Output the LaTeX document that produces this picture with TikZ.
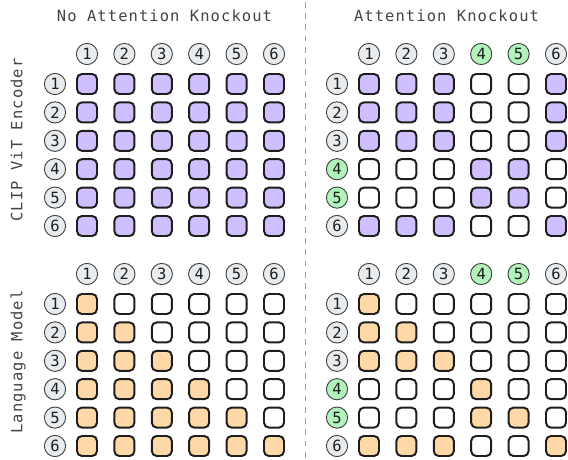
\documentclass[tikz,border=0pt]{standalone}
\usepackage{fontspec}
\setmonofont{DejaVu Sans Mono}
\newfontfamily\spacedmono[LetterSpace=7]{DejaVu Sans Mono}
\usetikzlibrary{positioning}

\definecolor{tokgray}{HTML}{E9ECEF}
\definecolor{tokgreen}{HTML}{B2F2BB}
\definecolor{attnpurple}{HTML}{D0BFFF}
\definecolor{attnorange}{HTML}{FFD8A8}
\definecolor{inkdark}{HTML}{1E1E1E}
\definecolor{labelgray}{HTML}{444444}

\begin{document}
\begin{tikzpicture}[
    x=0.025cm, y=-0.025cm,
    font=\fontsize{11}{13}\selectfont\ttfamily,
    token/.style={
        circle, draw=inkdark!85, line width=0.65pt,
        fill=tokgray, text=inkdark,
        minimum size=0.53cm, inner sep=0pt
    },
    knocked/.style={token, fill=tokgreen},
    cell/.style={
        rectangle, rounded corners=3.5pt,
        draw=inkdark, line width=1.4pt, fill=white,
        minimum size=0.5cm, inner sep=0pt
    },
    visual/.style={cell, fill=attnpurple},
    textual/.style={cell, fill=attnorange},
    paneltitle/.style={font=\fontsize{11}{13}\selectfont\spacedmono, text=labelgray},
    modeltitle/.style={paneltitle, rotate=90},
    separator/.style={draw=gray!75, line width=0.6pt, dash pattern=on 4pt off 4pt}
]
\useasboundingbox (0,0) rectangle (568,460);

% ============ Titles ============
\node[paneltitle] (title-no) at (164.5,16) {No Attention Knockout};
\node[paneltitle] (title-ko) at (446.5,16) {Attention Knockout};
\node[modeltitle] (label-enc) at (16.5,140) {CLIP ViT Encoder};
\node[modeltitle] (label-lm) at (18,362) {Language Model};

% ============ CLIP ViT Encoder, no knockout ============
\foreach \i in {1,...,6} {
    \node[token] (enc-no-col\i) at ({49.6+37.4*\i},54) {\i};
    \node[token] (enc-no-row\i) at (55,{55.6+28.4*\i}) {\i};
    \foreach \j in {1,...,6}
        \node[visual] (enc-no-\i-\j) at ({49.6+37.4*\j},{55.6+28.4*\i}) {};
}

% ============ CLIP ViT Encoder, knockout ============
\foreach \i/\si/\gi in {1/token/0,2/token/0,3/token/0,4/knocked/1,5/knocked/1,6/token/0} {
    \node[\si] (enc-ko-col\i) at ({331.6+37.4*\i},54) {\i};
    \node[\si] (enc-ko-row\i) at (337,{55.6+28.4*\i}) {\i};
    \foreach \j/\gj in {1/0,2/0,3/0,4/1,5/1,6/0} {
        \ifnum\gi=\gj \def\kind{visual}\else\def\kind{cell}\fi
        \node[\kind] (enc-ko-\i-\j) at ({331.6+37.4*\j},{55.6+28.4*\i}) {};
    }
}

% ============ Language Model, no knockout ============
\foreach \i in {1,...,6} {
    \node[token] (lm-no-col\i) at ({49.6+37.4*\i},274) {\i};
    \node[token] (lm-no-row\i) at (55,{275.6+28.4*\i}) {\i};
    \foreach \j in {1,...,6} {
        \ifnum\j>\i \def\kind{cell}\else\def\kind{textual}\fi
        \node[\kind] (lm-no-\i-\j) at ({49.6+37.4*\j},{275.6+28.4*\i}) {};
    }
}

% ============ Language Model, knockout ============
\foreach \i/\si/\gi in {1/token/0,2/token/0,3/token/0,4/knocked/1,5/knocked/1,6/token/0} {
    \node[\si] (lm-ko-col\i) at ({331.6+37.4*\i},274) {\i};
    \node[\si] (lm-ko-row\i) at (337,{275.6+28.4*\i}) {\i};
    \foreach \j/\gj in {1/0,2/0,3/0,4/1,5/1,6/0} {
        \def\kind{cell}
        \ifnum\j>\i \else \ifnum\gi=\gj \def\kind{textual}\fi\fi
        \node[\kind] (lm-ko-\i-\j) at ({331.6+37.4*\j},{275.6+28.4*\i}) {};
    }
}

% ============ Separator ============
\coordinate (sep-top) at (305,2);
\coordinate (sep-bot) at (305,458);
\draw[separator] (sep-top) -- (sep-bot);

\end{tikzpicture}
\end{document}
